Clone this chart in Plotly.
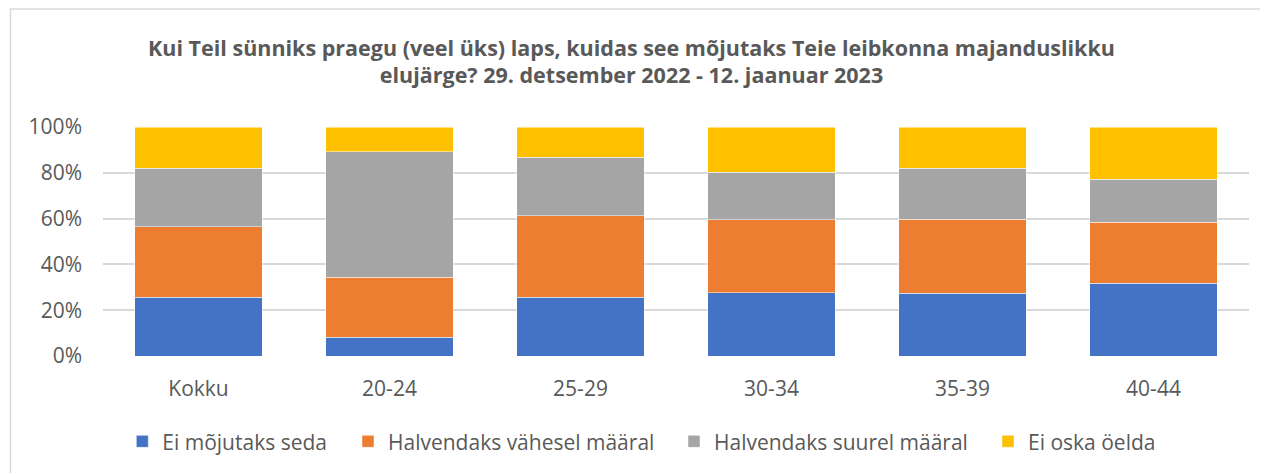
import plotly.graph_objects as go

categories = ["Kokku", "20-24", "25-29", "30-34", "35-39", "40-44"]
series_names = ["Ei mõjutaks seda", "Halvendaks vähesel määral", "Halvendaks suurel määral", "Ei oska öelda"]
ei_mojutaks = [25.7, 8.2, 25.6, 27.7, 27.3, 31.8]
halv_vahesel = [30.7, 26.2, 35.7, 31.7, 32.4, 26.7]
halv_suurel = [25.5, 54.9, 25.4, 20.8, 22.2, 18.7]
ei_oska = [18.1, 10.7, 13.3, 19.8, 18.1, 22.8]
colors = ["#4472C4", "#ED7D31", "#A5A5A5", "#FFC000"]

title_text = ("Kui Teil sünniks praegu (veel üks) laps, kuidas see mõjutaks Teie leibkonna majanduslikku<br>"
              "elujärge? 29. detsember 2022 - 12. jaanuar 2023")

# page body has an 8px margin, so figure coords = reference coords - 8
W, H = 1260, 465
ml, mr, mt, mb = 95, 19, 119, 116
pw = W - ml - mr
ph = H - mt - mb

def px(x):
    return (x - ml) / pw

def py(y):
    return (H - mb - y) / ph

legend_ids = ["legend", "legend2", "legend3", "legend4"]
legend_text_x = [155.3, 381, 707, 1021]

fig = go.Figure()
for name, vals, col, lid in zip(series_names, [ei_mojutaks, halv_vahesel, halv_suurel, ei_oska], colors, legend_ids):
    fig.add_trace(go.Bar(x=categories, y=vals, name=name, legend=lid,
                         marker=dict(color=col, line=dict(width=0.5, color="white"))))

layout_legends = {}
for lid, tx in zip(legend_ids, legend_text_x):
    layout_legends[lid] = dict(orientation="h", x=px(tx - 41), xanchor="left", y=py(433.7), yanchor="middle",
                               font=dict(size=21, color="#595959"), itemwidth=30,
                               bgcolor="rgba(0,0,0,0)", borderwidth=0)

fig.update_layout(
    width=W, height=H,
    barmode="stack", bargap=0.335,
    margin=dict(l=ml, r=mr, t=mt, b=mb),
    paper_bgcolor="white", plot_bgcolor="white",
    font=dict(family="Open Sans", color="#595959", size=21),
    title=dict(text=title_text, x=623.5 / W, xanchor="center", y=1 - 47.5 / H, yanchor="middle",
               font=dict(family="Open Sans", size=21.5, color="#595959", weight="bold")),
    xaxis=dict(showgrid=False, showline=False, ticks="", tickfont=dict(size=21, color="#595959"),
               ticklabelstandoff=18),
    yaxis=dict(range=[0, 100], dtick=20, ticksuffix="%", showgrid=True, gridcolor="#D9D9D9",
               gridwidth=1.5, zeroline=False, showline=False, tickfont=dict(size=21, color="#595959"),
               ticklabelstandoff=20),
    showlegend=True,
    **layout_legends,
)
fig.add_shape(type="rect", xref="paper", yref="paper", x0=px(2.5), x1=px(1290), y0=py(490), y1=py(0.5),
              line=dict(color="#D9D9D9", width=1.5), fillcolor="rgba(0,0,0,0)", layer="below")

fig.write_html("out.html")
